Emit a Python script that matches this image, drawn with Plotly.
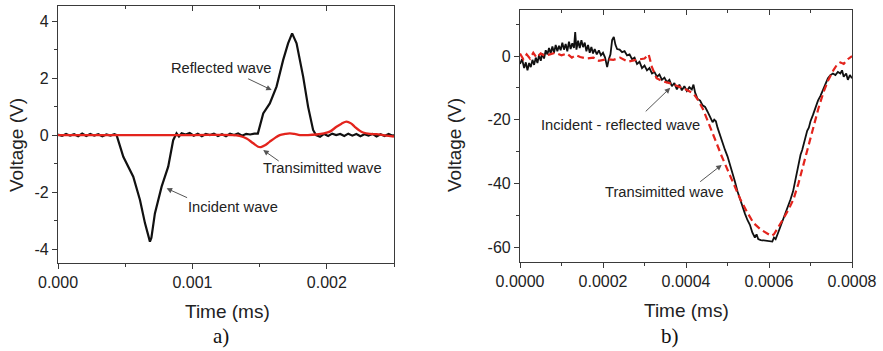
import plotly.graph_objects as go

# ---------------- data: panel a) ----------------
a_black_t = [0.0, 0.00003, 0.00006, 0.00009, 0.00012, 0.00015, 0.00018, 0.00021, 0.00024, 0.00027,
             0.00030, 0.00033, 0.00036, 0.00039, 0.00042, 0.000436, 0.000486, 0.00052, 0.00056, 0.00061,
             0.000647, 0.000684, 0.000695, 0.000721, 0.000771, 0.00082, 0.000857, 0.000882, 0.00090, 0.00092,
             0.00095, 0.00098, 0.00101, 0.00104, 0.00107, 0.00110, 0.00113, 0.00116, 0.00119, 0.00122,
             0.00125, 0.00128, 0.00131, 0.00134, 0.00137, 0.00140, 0.00143, 0.00146, 0.001487, 0.001527,
             0.001576, 0.001626, 0.001675, 0.001712, 0.001742, 0.001775, 0.001824, 0.001861, 0.001898, 0.00192,
             0.00195, 0.00198, 0.00201, 0.00204, 0.00207, 0.00210, 0.00213, 0.00216, 0.00219, 0.00222,
             0.00225, 0.00228, 0.00231, 0.00234, 0.00237, 0.00240, 0.00243, 0.00246, 0.00249, 0.0025]
a_black_v = [0.02, -0.03, 0.04, -0.02, 0.03, -0.04, 0.05, -0.03, 0.04, -0.02,
             0.03, -0.04, 0.02, -0.02, 0.03, 0.0, -0.76, -1.10, -1.46, -2.28,
             -3.09, -3.74, -3.60, -2.75, -1.81, -1.11, -0.18, 0.06, -0.05, 0.06,
             0.02, 0.07, -0.02, 0.05, -0.04, 0.04, 0.0, 0.05, -0.03, 0.03,
             -0.04, 0.05, 0.0, 0.06, -0.02, 0.04, 0.02, 0.05, 0.05, 0.76,
             1.11, 1.70, 2.63, 3.22, 3.57, 3.22, 2.05, 0.99, 0.18, 0.0,
             -0.06, 0.04, -0.03, 0.05, 0.0, 0.04, -0.03, 0.05, -0.02, 0.04,
             -0.04, 0.03, -0.02, 0.04, -0.05, 0.03, -0.03, 0.04, -0.02, 0.0]

a_red_t = [0.0, 0.0005, 0.001, 0.0013, 0.00135, 0.001403, 0.00145, 0.001489, 0.00151, 0.00154,
           0.001576, 0.00162, 0.00165, 0.00169, 0.001725, 0.00176, 0.0018, 0.00186, 0.001923, 0.00198,
           0.002022, 0.002072, 0.00211, 0.002146, 0.00218, 0.002208, 0.00224, 0.00227, 0.00232, 0.002369,
           0.00243, 0.0025]
a_red_v = [0.0, 0.0, 0.0, 0.0, -0.03, -0.12, -0.28, -0.41, -0.42, -0.36,
           -0.23, -0.08, 0.0, 0.04, 0.06, 0.04, 0.0, 0.0, 0.02, 0.06,
           0.12, 0.29, 0.40, 0.47, 0.41, 0.29, 0.17, 0.09, 0.04, 0.03,
           -0.01, -0.05]

# ---------------- data: panel b) ----------------
b_black_t = [0.000000, 0.000005, 0.000010, 0.000014, 0.000018, 0.000022, 0.000026, 0.000030, 0.000034, 0.000038,
             0.000042, 0.000046, 0.000050, 0.000054, 0.000058, 0.000062, 0.000066, 0.000070, 0.000074, 0.000078,
             0.000082, 0.000086, 0.000090, 0.000094, 0.000098, 0.000102, 0.000106, 0.000110, 0.000114, 0.000118,
             0.000122, 0.000126, 0.000130, 0.000133, 0.000136, 0.000140, 0.000144, 0.000148, 0.000152, 0.000156,
             0.000160, 0.000164, 0.000168, 0.000172, 0.000176, 0.000180, 0.000185, 0.000190, 0.000195, 0.000200,
             0.000205, 0.000210, 0.000214, 0.000218, 0.000222, 0.000226, 0.000230, 0.000234, 0.000240, 0.000246,
             0.000252, 0.000258, 0.000264, 0.000270, 0.000276, 0.000282, 0.000288, 0.000294, 0.000300, 0.000306,
             0.000312, 0.000318, 0.000324, 0.000330, 0.000336, 0.000342, 0.000348, 0.000354, 0.000360, 0.000366,
             0.000372, 0.000378, 0.000384, 0.000390, 0.000396, 0.000402, 0.000408, 0.000414, 0.000418, 0.000422,
             0.000428, 0.000434, 0.000440, 0.000446, 0.000452, 0.000458, 0.000464, 0.000468, 0.000472, 0.000476,
             0.000482, 0.000488, 0.000494, 0.000500, 0.000506, 0.000512, 0.000518, 0.000524, 0.000530, 0.000536,
             0.000542, 0.000548, 0.000554, 0.000560, 0.000566, 0.000570, 0.000574, 0.000580, 0.000590, 0.000600,
             0.000608, 0.000612, 0.000616, 0.000622, 0.000628, 0.000634, 0.000640, 0.000646, 0.000652, 0.000658,
             0.000664, 0.000668, 0.000672, 0.000676, 0.000680, 0.000684, 0.000688, 0.000692, 0.000696, 0.000700,
             0.000706, 0.000712, 0.000718, 0.000724, 0.000730, 0.000736, 0.000742, 0.000748, 0.000754, 0.000760,
             0.000766, 0.000772, 0.000776, 0.000780, 0.000786, 0.000790, 0.000795, 0.000800]
b_black_v = [-2.5, -1.0, -3.8, -2.0, -4.5, -2.2, -3.5, -1.2, -2.8, -0.5,
             -2.2, 0.3, -1.5, 0.8, -0.8, 1.8, 0.5, 2.5, 0.8, 3.0,
             1.0, 3.5, 1.5, 3.2, 1.8, 4.2, 2.0, 3.8, 1.5, 4.5,
             2.2, 4.0, 2.5, 7.5, 2.0, 4.8, 2.5, 5.0, 2.8, 4.2,
             1.5, 3.5, 1.0, 2.8, 0.8, 2.2, 0.5, 1.8, 0.2, 1.0,
             -0.5, -3.5, -1.0, 0.5, 5.0, 6.0, 3.5, 2.2, 2.0, 1.2,
             1.5, 0.2, 0.5, -1.0, -0.5, -2.5, -1.8, -3.8, -3.0, -4.5,
             -3.8, -5.5, -5.0, -6.5, -5.8, -7.5, -6.8, -8.2, -7.5, -9.5,
             -8.5, -10.5, -9.0, -10.8, -9.5, -11.0, -9.8, -10.5, -9.0, -11.5,
             -13.5, -14.0, -15.5, -16.0, -17.5, -19.0, -20.8, -20.0, -20.5, -22.5,
             -25.0, -27.0, -29.5, -31.5, -34.0, -37.0, -39.5, -42.5, -45.0, -47.5,
             -49.5, -51.5, -53.0, -55.5, -57.0, -56.0, -57.5, -57.8, -58.0, -58.2,
             -58.3, -57.0, -57.5, -55.5, -53.5, -51.5, -49.5, -47.5, -45.0, -42.5,
             -38.5, -36.0, -33.0, -31.0, -29.5, -27.5, -26.0, -23.5, -22.5, -20.5,
             -18.5, -16.0, -14.0, -12.5, -10.5, -8.5, -7.0, -6.0, -5.5, -6.0,
             -5.0, -5.5, -4.5, -6.5, -5.5, -7.5, -6.0, -7.0]

b_red_t = [0.000000, 0.000008, 0.000016, 0.000024, 0.000032, 0.000040, 0.000050, 0.000060, 0.000072, 0.000085,
           0.000100, 0.000113, 0.000125, 0.000135, 0.000145, 0.000160, 0.000177, 0.000190, 0.000209, 0.000225,
           0.000241, 0.000260, 0.000281, 0.000300, 0.000310, 0.000318, 0.000329, 0.000345, 0.000360, 0.000380,
           0.000400, 0.000418, 0.000430, 0.000442, 0.000458, 0.000474, 0.000486, 0.000498, 0.000515, 0.000531,
           0.000547, 0.000563, 0.000580, 0.000595, 0.000605, 0.000612, 0.000622, 0.000635, 0.000648, 0.000659,
           0.000671, 0.000683, 0.000695, 0.000707, 0.000719, 0.000731, 0.000743, 0.000755, 0.000765, 0.000772,
           0.000780, 0.000790, 0.000800]
b_red_v = [0.8, -1.0, 0.5, -0.8, 1.0, -0.5, 0.8, 0.0, 0.5, 1.0,
           0.2, 0.8, -0.5, 0.3, -0.3, -0.8, -0.5, -1.5, -1.0, -1.2,
           -0.5, -1.8, -1.2, -0.8, 0.5, -3.5, -7.0, -8.0, -8.5, -9.5,
           -10.5, -11.8, -14.0, -17.0, -22.0, -27.5, -31.5, -35.0, -40.0, -45.0,
           -49.0, -52.5, -54.5, -55.8, -56.5, -56.0, -54.0, -51.0, -48.0, -45.0,
           -40.0, -34.0, -28.0, -22.0, -16.5, -11.5, -7.5, -4.5, -2.5, -2.0,
           -2.5, -1.0, 0.0]

# ---------------- tick labels ----------------
a_ticks_x = [0.0, 0.001, 0.002]
a_ticks_x_text = ["0.000", "0.001", "0.002"]
a_ticks_y = [-4, -2, 0, 2, 4]
a_ticks_y_text = ["-4", "-2", "0", "2", "4"]
b_ticks_x = [0.0, 0.0002, 0.0004, 0.0006, 0.0008]
b_ticks_x_text = ["0.0000", "0.0002", "0.0004", "0.0006", "0.0008"]
b_ticks_y = [-60, -40, -20, 0]
b_ticks_y_text = ["-60", "-40", "-20", "0"]

W, H = 883, 351
FONT = "Liberation Sans, Arial, sans-serif"
AX = "#3a3a3a"
RED = "#e3241d"
BLK = "#111111"

fig = go.Figure()
fig.add_trace(go.Scatter(x=a_black_t, y=a_black_v, mode="lines", line=dict(color=BLK, width=2.2),
                         xaxis="x", yaxis="y", showlegend=False, hoverinfo="skip"))
fig.add_trace(go.Scatter(x=a_red_t, y=a_red_v, mode="lines", line=dict(color=RED, width=2.3, shape="spline"),
                         xaxis="x", yaxis="y", showlegend=False, hoverinfo="skip"))
fig.add_trace(go.Scatter(x=b_black_t, y=b_black_v, mode="lines", line=dict(color=BLK, width=1.8),
                         xaxis="x2", yaxis="y2", showlegend=False, hoverinfo="skip"))
fig.add_trace(go.Scatter(x=b_red_t, y=b_red_v, mode="lines",
                         line=dict(color=RED, width=2.2, dash="7px,4px"),
                         xaxis="x2", yaxis="y2", showlegend=False, hoverinfo="skip"))
# empty traces so the top inner-tick axes get drawn
fig.add_trace(go.Scatter(x=[], y=[], xaxis="x3", yaxis="y", showlegend=False))
fig.add_trace(go.Scatter(x=[], y=[], xaxis="x4", yaxis="y2", showlegend=False))

tickfont = dict(family=FONT, size=16, color="#222")
common = dict(showline=True, linecolor=AX, linewidth=1.2, mirror=True, ticks="outside",
              ticklen=5, tickwidth=1.2, tickcolor=AX, showgrid=False, zeroline=False,
              tickfont=tickfont, automargin=False)

a_dom_x = [58 / W, 394 / W]
a_dom_y = [1 - 263 / H, 1 - 6 / H]
b_dom_x = [520 / W, 852 / W]
b_dom_y = [1 - 262 / H, 1 - 10 / H]

a_xr = [0, 0.0025]
b_xr = [0, 0.0008]

fig.update_layout(
    width=W, height=H, margin=dict(l=0, r=0, t=0, b=0),
    paper_bgcolor="white", plot_bgcolor="white",
    xaxis=dict(domain=a_dom_x, range=a_xr, tickvals=a_ticks_x, ticktext=a_ticks_x_text,
               minor=dict(dtick=0.0005, ticks="outside", ticklen=3, tickcolor=AX), anchor="y", **common),
    yaxis=dict(domain=a_dom_y, range=[-4.49, 4.53], tickvals=a_ticks_y, ticktext=a_ticks_y_text,
               minor=dict(dtick=1, ticks="outside", ticklen=3, tickcolor=AX), anchor="x", **common),
    xaxis2=dict(domain=b_dom_x, range=b_xr, tickvals=b_ticks_x, ticktext=b_ticks_x_text,
                minor=dict(dtick=0.0001, ticks="outside", ticklen=3, tickcolor=AX), anchor="y2", **common),
    yaxis2=dict(domain=b_dom_y, range=[-64.7, 14.45], tickvals=b_ticks_y, ticktext=b_ticks_y_text,
                minor=dict(dtick=10, ticks="outside", ticklen=3, tickcolor=AX), anchor="x2", **common),
    xaxis3=dict(overlaying="x", side="top", anchor="y", range=a_xr, tickvals=a_ticks_x, showticklabels=False,
                ticks="inside", ticklen=5, tickwidth=1.2, tickcolor=AX, showgrid=False, zeroline=False,
                showline=False, automargin=False,
                minor=dict(dtick=0.0005, ticks="inside", ticklen=3, tickcolor=AX)),
    xaxis4=dict(overlaying="x2", side="top", anchor="y2", range=b_xr, tickvals=b_ticks_x, showticklabels=False,
                ticks="inside", ticklen=5, tickwidth=1.2, tickcolor=AX, showgrid=False, zeroline=False,
                showline=False, automargin=False,
                minor=dict(dtick=0.0001, ticks="inside", ticklen=3, tickcolor=AX)),
)

ann = []
txtfont = dict(family=FONT, size=14.7, color="#222")
titlefont = dict(family=FONT, size=19, color="#222")


def paper_text(text, px, py, font, angle=0):
    ann.append(dict(text=text, x=px / W, y=1 - py / H, xref="paper", yref="paper",
                    xanchor="center", yanchor="middle", showarrow=False, font=font, textangle=angle))


paper_text("Voltage (V)", 17, 145, titlefont, -90)
paper_text("Voltage (V)", 455, 145, titlefont, -90)
paper_text("Time (ms)", 227, 311, titlefont)
paper_text("Time (ms)", 686, 310, titlefont)
serif = dict(family="Liberation Serif, Times New Roman, serif", size=21, color="#111")
paper_text("a)", 221, 336, serif)
paper_text("b)", 670, 336, serif)


def label(text, x, y, xr, yr):
    ann.append(dict(text=text, x=x, y=y, xref=xr, yref=yr, showarrow=False,
                    xanchor="center", yanchor="middle", font=txtfont))


def arrow(x, y, ax, ay, xr, yr):
    ann.append(dict(text="", x=x, y=y, xref=xr, yref=yr, ax=ax, ay=ay, showarrow=True,
                    arrowhead=2, arrowsize=1.1, arrowwidth=1, arrowcolor="#555"))


label("Reflected wave", 0.001214, 2.34, "x", "y")
label("Transimitted wave", 0.00197, -1.17, "x", "y")
label("Incident wave", 0.001303, -2.54, "x", "y")
arrow(0.00159, 1.58, -25, -12, "x", "y")
arrow(0.001527, -0.526, 17, 12, "x", "y")
arrow(0.000808, -1.87, 22, 10, "x", "y")

label("Incident - reflected wave", 0.000243, -21.7, "x2", "y2")
label("Transimitted wave", 0.000349, -42.8, "x2", "y2")
arrow(0.000362, -10.0, -26, 25, "x2", "y2")
arrow(0.000486, -34.2, -23, 18, "x2", "y2")

fig.update_layout(annotations=ann)
fig.write_html("out.html", config={"displayModeBar": False},
               post_script="document.body.style.margin='0';document.body.style.overflow='hidden';")
